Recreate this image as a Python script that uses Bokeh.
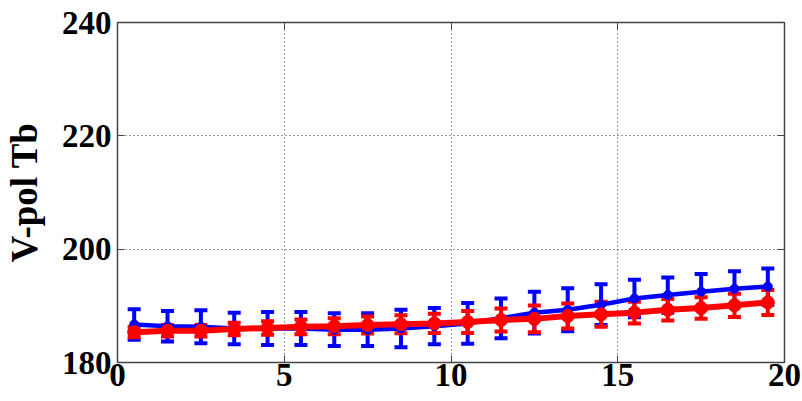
from bokeh.plotting import figure
from bokeh.models import (ColumnDataSource, Whisker, TeeHead, LinearAxis, FixedTicker,
                          Range1d, CustomJSTickFormatter)
from bokeh.embed import file_html
from bokeh.resources import INLINE

x = [0.5, 1.5, 2.5, 3.5, 4.5, 5.5, 6.5, 7.5, 8.5, 9.5,
     10.5, 11.5, 12.5, 13.5, 14.5, 15.5, 16.5, 17.5, 18.5, 19.5]
blue = [186.7, 186.4, 186.3, 186.0, 186.0, 186.0, 185.8, 185.8, 186.0, 186.4,
        186.9, 187.8, 188.8, 189.3, 190.2, 191.3, 191.9, 192.5, 193.0, 193.4]
blue_err = [2.7, 2.7, 2.9, 2.8, 2.9, 2.9, 2.9, 2.9, 3.3, 3.2,
            3.6, 3.5, 3.7, 3.8, 3.6, 3.3, 3.1, 3.1, 3.1, 3.2]
red = [185.35, 185.6, 185.6, 185.9, 186.1, 186.3, 186.4, 186.6, 186.75, 186.9,
       187.15, 187.5, 187.7, 188.2, 188.5, 188.8, 189.3, 189.6, 190.1, 190.6]
red_err = [0.9, 1.0, 1.0, 1.1, 1.2, 1.3, 1.4, 1.5, 1.6, 1.7,
           1.95, 2.05, 2.35, 2.2, 2.2, 1.9, 1.9, 1.9, 2.05, 2.2]
x_ticks = [0, 5, 10, 15, 20]
y_ticks = [180, 200, 220, 240]
y_label = "V-pol Tb"

FONT = "Liberation Serif"

p = figure(width=802, height=401, output_backend="svg", toolbar_location=None,
           x_range=Range1d(0, 20), y_range=Range1d(180, 240),
           min_border_left=116, min_border_right=18, min_border_top=22, min_border_bottom=39)
p.background_fill_color = "white"
p.border_fill_color = "white"
p.outline_line_color = "#444444"
p.outline_line_width = 1.5

for ax in [p.xaxis[0], p.yaxis[0]]:
    ax.major_label_text_font = FONT
    ax.major_label_text_font_style = "bold"
    ax.major_label_text_font_size = "33px"
    ax.major_label_text_color = "black"
    ax.major_tick_in = 7
    ax.major_tick_out = 0
    ax.minor_tick_line_color = None
    ax.axis_line_color = "#444444"
    ax.major_tick_line_color = "#444444"
p.xaxis[0].ticker = FixedTicker(ticks=x_ticks)
p.yaxis[0].ticker = FixedTicker(ticks=y_ticks)
p.xaxis[0].major_label_standoff = 1
p.yaxis[0].major_label_standoff = 6
p.yaxis[0].axis_label = y_label
p.yaxis[0].axis_label_text_font = FONT
p.yaxis[0].axis_label_text_font_style = "bold"
p.yaxis[0].axis_label_text_font_size = "37px"
p.yaxis[0].axis_label_text_color = "black"
p.yaxis[0].axis_label_standoff = 14

for loc in ["above", "right"]:
    ax = LinearAxis(ticker=FixedTicker(ticks=x_ticks if loc == "above" else y_ticks),
                    formatter=CustomJSTickFormatter(code="return ''"))
    ax.major_label_text_font_size = "1px"
    ax.major_tick_in = 7
    ax.major_tick_out = 0
    ax.minor_tick_line_color = None
    ax.axis_line_color = "#444444"
    ax.major_tick_line_color = "#444444"
    ax.major_label_standoff = 0
    p.add_layout(ax, loc)

p.xgrid.ticker = FixedTicker(ticks=x_ticks)
p.ygrid.ticker = FixedTicker(ticks=y_ticks)
for g in [p.xgrid, p.ygrid]:
    g.grid_line_color = "#333333"
    g.grid_line_dash = "1 3"
    g.grid_line_width = 1

def series(vals, errs, color, lw, msize):
    src = ColumnDataSource(dict(x=x, y=vals,
                                lo=[v - e for v, e in zip(vals, errs)],
                                hi=[v + e for v, e in zip(vals, errs)]))
    p.line("x", "y", source=src, line_color=color, line_width=lw)
    w = Whisker(source=src, base="x", lower="lo", upper="hi",
                line_color=color, line_width=4,
                upper_head=TeeHead(size=13, line_color=color, line_width=4),
                lower_head=TeeHead(size=13, line_color=color, line_width=4))
    p.add_layout(w)
    p.scatter("x", "y", source=src, marker="circle", size=msize,
              fill_color=color, line_color=color)

series(blue, blue_err, "#0000ff", 4.5, 9)
series(red, red_err, "#ff0000", 6, 13)

open("out.html", "w").write(file_html(p, INLINE))
